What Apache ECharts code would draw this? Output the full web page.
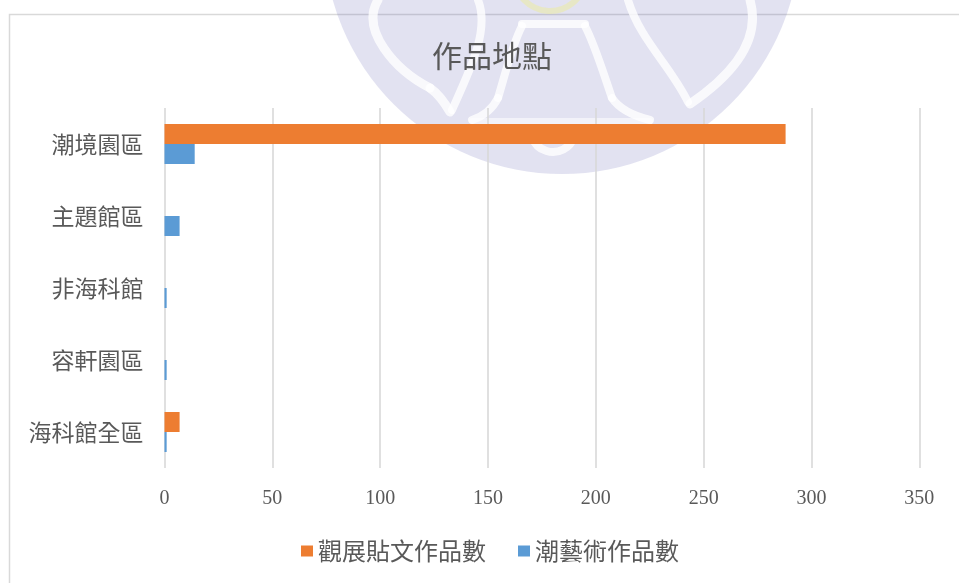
<!DOCTYPE html>
<html>
<head>
<meta charset="utf-8">
<script src="https://cdn.jsdelivr.net/npm/echarts@6/dist/echarts.min.js"></script>
<style>
html,body{margin:0;padding:0;background:#fff;}
#chart{width:959px;height:583px;}
</style>
</head>
<body>
<div id="chart"></div>
<script>
var categories = ['潮境園區', '主題館區', '非海科館', '容軒園區', '海科館全區'];
var seriesNames = ['觀展貼文作品數', '潮藝術作品數'];
var postValues = [288, 0, 0, 0, 7];
var artValues = [14, 7, 1, 1, 1];
var xTicks = [0, 50, 100, 150, 200, 250, 300, 350];

var chart = echarts.init(document.getElementById('chart'));
var cjk = '"Noto Sans CJK TC", "Noto Sans CJK SC", sans-serif';
var txt = '#595959';

var wm = 'rgba(110,110,185,0.2)';
var wmWhite = 'rgba(255,255,255,0.8)';

function curve(x1, y1, c1x, c1y, c2x, c2y, x2, y2, w) {
  return {type: 'bezierCurve',
    shape: {x1: x1, y1: y1, cpx1: c1x, cpy1: c1y, cpx2: c2x, cpy2: c2y, x2: x2, y2: y2},
    style: {fill: 'none', stroke: wmWhite, lineWidth: w, lineCap: 'round'}};
}

chart.setOption({
  animation: false,
  backgroundColor: '#fff',
  title: {
    text: '作品地點',
    left: 427,
    top: 36,
    textStyle: {fontFamily: cjk, fontSize: 30, fontWeight: 'normal', color: txt}
  },
  legend: {
    data: seriesNames,
    left: 301,
    top: 539,
    padding: 0,
    icon: 'rect',
    itemWidth: 12,
    itemHeight: 11,
    itemGap: 32,
    textStyle: {fontFamily: cjk, fontSize: 24, color: txt}
  },
  grid: {left: 164.5, right: 39.7, top: 108, bottom: 115},
  xAxis: {
    type: 'value',
    min: xTicks[0],
    max: xTicks[xTicks.length - 1],
    interval: 50,
    axisLine: {show: false},
    axisTick: {show: false},
    splitLine: {lineStyle: {color: '#d9d9d9', width: 1.6}},
    axisLabel: {fontFamily: '"Liberation Serif", serif', fontSize: 20, color: txt, margin: 21}
  },
  yAxis: {
    type: 'category',
    data: categories,
    inverse: true,
    axisLine: {show: false},
    axisTick: {show: false},
    axisLabel: {fontFamily: cjk, fontSize: 23, color: txt, margin: 21}
  },
  series: [
    {name: seriesNames[0], type: 'bar', data: postValues, barWidth: 20, barGap: '0%',
     itemStyle: {color: '#ED7D31'}},
    {name: seriesNames[1], type: 'bar', data: artValues, barWidth: 20, barGap: '0%',
     itemStyle: {color: '#5B9BD5'}}
  ],
  graphic: [
    {type: 'rect', silent: true, z: 0, shape: {x: 9.5, y: 14.5, width: 1000, height: 700},
     style: {fill: 'none', stroke: '#d9d9d9', lineWidth: 1.5}},
    {type: 'group', silent: true, z: 100, children: [
      {type: 'circle', shape: {cx: 562, cy: -64, r: 238}, style: {fill: wm}},
      {type: 'arc', shape: {cx: 550, cy: -25, r: 36, startAngle: 0.1, endAngle: Math.PI - 0.1},
       style: {fill: 'none', stroke: 'rgba(235,235,170,0.6)', lineWidth: 6}},
      curve(522, 26, 512, 45, 505, 75, 498, 98, 8),
      curve(498, 98, 492, 110, 484, 116, 472, 120, 8),
      curve(585, 26, 595, 45, 604, 75, 612, 98, 8),
      curve(612, 98, 620, 110, 634, 116, 650, 120, 8),
      {type: 'line', shape: {x1: 472, y1: 121, x2: 650, y2: 121},
       style: {stroke: 'rgba(255,255,255,0.55)', lineWidth: 6, lineCap: 'round'}},
      {type: 'line', shape: {x1: 522, y1: 24, x2: 585, y2: 24},
       style: {stroke: wmWhite, lineWidth: 8, lineCap: 'round'}},
      {type: 'arc', shape: {cx: 553, cy: 130, r: 22, startAngle: 0.3, endAngle: Math.PI - 0.3},
       style: {fill: 'none', stroke: wmWhite, lineWidth: 8}},
      curve(378, 0, 360, 30, 395, 70, 430, 88, 9),
      curve(430, 88, 440, 95, 446, 105, 450, 112, 9),
      curve(478, 0, 490, 30, 470, 70, 452, 110, 8),
      curve(750, 0, 760, 35, 740, 70, 690, 104, 9),
      curve(628, 0, 640, 40, 670, 65, 688, 102, 8)
    ]}
  ]
});
</script>
</body>
</html>
